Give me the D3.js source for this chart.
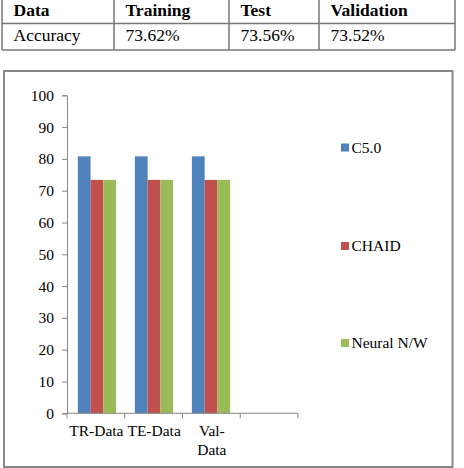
<!DOCTYPE html>
<html>
<head>
<meta charset="utf-8">
<script src="https://cdnjs.cloudflare.com/ajax/libs/d3/7.8.5/d3.min.js"></script>
<style>
body{margin:0;background:#fff;}
</style>
</head>
<body>
<div id="chart"></div>
<script>
// table
let tableHead = ['Data', 'Training', 'Test', 'Validation']
let tableRow = ['Accuracy', '73.62%', '73.56%', '73.52%']

// chart
let categories = ['TR-Data', 'TE-Data', 'Val-Data', '']
let seriesNames = ['C5.0', 'CHAID', 'Neural N/W']
let c50 = [80.8, 80.8, 80.8]
let chaid = [73.4, 73.4, 73.4]
let neural = [73.4, 73.4, 73.4]
let yTicks = [0, 10, 20, 30, 40, 50, 60, 70, 80, 90, 100]

let colors = ['#4F81BD', '#C0504D', '#9BBB59']
let serif = "'Liberation Serif', 'Times New Roman', serif"

let width = 464, height = 468

let svg = d3.select('#chart').append('svg')
    .attr('width', width)
    .attr('height', height)
    .style('display', 'block')

// ---------- table ----------
let colX = [2, 114, 229, 319, 455]
let rowY = [-1, 23.5, 50]

let table = svg.append('g')

table.selectAll('hline')
    .data(rowY)
    .enter()
    .append('line')
    .attr('x1', colX[0])
    .attr('x2', colX[4])
    .attr('y1', d => d)
    .attr('y2', d => d)
    .attr('stroke', '#777')
    .attr('stroke-width', 1.5)

table.selectAll('vline')
    .data(colX)
    .enter()
    .append('line')
    .attr('x1', d => d)
    .attr('x2', d => d)
    .attr('y1', rowY[0])
    .attr('y2', rowY[2])
    .attr('stroke', '#777')
    .attr('stroke-width', 1.5)

table.selectAll('head_text')
    .data(tableHead)
    .enter()
    .append('text')
    .attr('x', (d, i) => colX[i] + 11.5)
    .attr('y', 16)
    .style('font-family', serif)
    .attr('font-size', 17.5)
    .attr('font-weight', 'bold')
    .text(d => d)

table.selectAll('row_text')
    .data(tableRow)
    .enter()
    .append('text')
    .attr('x', (d, i) => colX[i] + 11.5)
    .attr('y', 40.5)
    .style('font-family', serif)
    .attr('font-size', 17.5)
    .text(d => d)

// ---------- chart frame ----------
svg.append('rect')
    .attr('x', 4)
    .attr('y', 71)
    .attr('width', 448.5)
    .attr('height', 396)
    .attr('fill', 'none')
    .attr('stroke', '#888')
    .attr('stroke-width', 2)

let plotLeft = 67, plotRight = 298, plotTop = 95.3, plotBottom = 413.3

let x = d3.scaleBand()
    .domain(d3.range(categories.length))
    .range([plotLeft, plotRight])
    .paddingInner(0.33)
    .paddingOuter(0.19)

let xBand = d3.scaleBand()
    .domain(d3.range(categories.length))
    .range([plotLeft, plotRight])

let xSub = d3.scaleBand()
    .domain(seriesNames)
    .range([0, x.bandwidth()])

let y = d3.scaleLinear()
    .domain([0, 100])
    .range([plotBottom, plotTop])

let series = [c50, chaid, neural]

let groups = svg.selectAll('group')
    .data(series)
    .enter()
    .append('g')
    .attr('fill', (d, i) => colors[i])

groups.each(function(vals, si){
    d3.select(this).selectAll('rect')
        .data(vals)
        .enter()
        .append('rect')
        .attr('x', (d, i) => x(i) + xSub(seriesNames[si]))
        .attr('y', d => y(d))
        .attr('width', xSub.bandwidth())
        .attr('height', d => y(0) - y(d))
})

// y axis
let yAxis = svg.append('g')
    .attr('transform', 'translate(' + plotLeft + ',0)')
    .call(d3.axisLeft(y).tickValues(yTicks).tickSize(5).tickPadding(8))

yAxis.select('.domain').attr('stroke', '#868686')
yAxis.selectAll('.tick line').attr('stroke', '#868686')
yAxis.selectAll('.tick text')
    .style('font-family', serif)
    .attr('font-size', 15.5)
    .attr('fill', '#000')

// x axis
let xAxis = svg.append('g')
    .attr('transform', 'translate(0,' + plotBottom + ')')

xAxis.append('line')
    .attr('x1', plotLeft)
    .attr('x2', plotRight)
    .attr('stroke', '#868686')

xAxis.selectAll('xtick')
    .data(d3.range(categories.length + 1))
    .enter()
    .append('line')
    .attr('x1', d => d < categories.length ? xBand(d) : plotRight)
    .attr('x2', d => d < categories.length ? xBand(d) : plotRight)
    .attr('y1', 0)
    .attr('y2', 5)
    .attr('stroke', '#868686')

let catLines = [['TR-Data'], ['TE-Data'], ['Val-', 'Data'], ['']]

xAxis.selectAll('xlabel')
    .data(catLines)
    .enter()
    .append('text')
    .attr('text-anchor', 'middle')
    .style('font-family', serif)
    .attr('font-size', 15.5)
    .attr('y', 23)
    .each(function(lines, i){
        d3.select(this).selectAll('tspan')
            .data(lines)
            .enter()
            .append('tspan')
            .attr('x', xBand(i) + xBand.bandwidth() / 2 + 0.5)
            .attr('dy', (d, j) => j ? 19 : 0)
            .text(d => d)
    })

// legend
let legendY = [147.5, 246, 343]

let legend = svg.selectAll('legend')
    .data(seriesNames)
    .enter()
    .append('g')
    .attr('transform', (d, i) => 'translate(341,' + legendY[i] + ')')

legend.append('rect')
    .attr('x', 0)
    .attr('y', -4)
    .attr('width', 8)
    .attr('height', 8)
    .attr('fill', (d, i) => colors[i])

legend.append('text')
    .attr('x', 10.5)
    .attr('y', 5)
    .style('font-family', serif)
    .attr('font-size', 15.5)
    .text(d => d)
</script>
</body>
</html>
